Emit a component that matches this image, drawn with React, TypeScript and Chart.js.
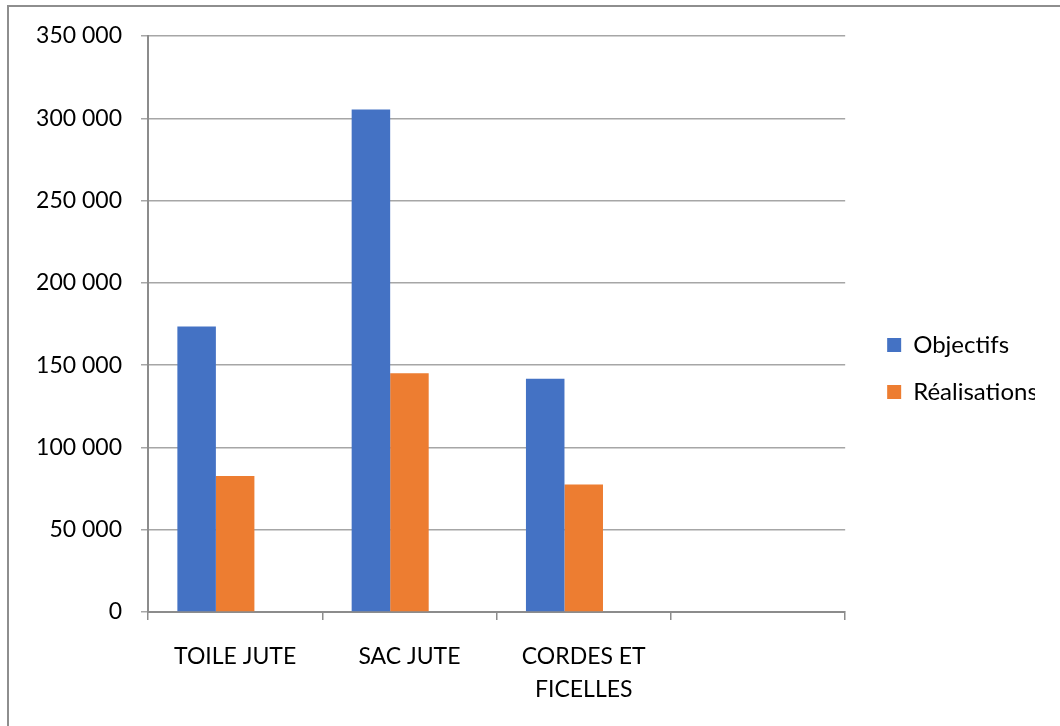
import React, { useEffect, useRef } from "react";
import { Chart, registerables } from "chart.js";

Chart.register(...registerables);

const categories: (string | string[])[] = ["TOILE JUTE", "SAC JUTE", ["CORDES ET", "FICELLES"], ""];
const objectifs: (number | null)[] = [173500, 305300, 141700, null];
const realisations: (number | null)[] = [82600, 145000, 77500, null];
const serie3: (number | null)[] = [null, null, null, null];
const seriesNames = ["Objectifs", "Réalisations", "Série3"];
const yTicks = [0, 50000, 100000, 150000, 200000, 250000, 300000, 350000];

const FONT = "Lato";

function fmt(v: number): string {
  return String(v).replace(/\B(?=(\d{3})+(?!\d))/g, " ");
}

export default function App() {
  const ref = useRef<HTMLCanvasElement | null>(null);
  useEffect(() => {
    if (!ref.current) return;
    const chart = new Chart(ref.current, {
      type: "bar",
      data: {
        labels: categories,
        datasets: [
          { label: seriesNames[0], data: objectifs, backgroundColor: "#4472C4", borderWidth: 0 },
          { label: seriesNames[1], data: realisations, backgroundColor: "#ED7D31", borderWidth: 0 },
          { label: seriesNames[2], data: serie3, backgroundColor: "#A5A5A5", borderWidth: 0 },
        ],
      },
      options: {
        animation: false,
        responsive: true,
        maintainAspectRatio: false,
        layout: { padding: { left: 10, right: 25, top: 36, bottom: 25 } },
        datasets: { bar: { categoryPercentage: 0.663, barPercentage: 1 } },
        plugins: {
          legend: {
            position: "right",
            labels: {
              boxWidth: 14,
              boxHeight: 14,
              padding: 23,
              color: "#000",
              font: { family: FONT, size: 24 },
              filter: (item: any) => item.datasetIndex !== 2,
            },
          },
          tooltip: { enabled: false },
        },
        scales: {
          x: {
            offset: true,
            grid: {
              offset: true,
              drawOnChartArea: false,
              drawTicks: true,
              tickLength: 8,
              color: "#8c8c8c",
              lineWidth: 1.5,
            },
            border: { display: true, color: "#8c8c8c", width: 2 },
            ticks: {
              color: "#000",
              font: { family: FONT, size: 23, lineHeight: 1.43 },
              padding: 20,
              maxRotation: 0,
              autoSkip: false,
            },
            afterFit: (s: any) => {
              s.height = 89;
            },
          },
          y: {
            min: 0,
            max: 350000,
            afterBuildTicks: (s: any) => {
              s.ticks = yTicks.map((v) => ({ value: v }));
            },
            grid: {
              color: "#a6a6a6",
              lineWidth: 1.5,
              tickLength: 7,
              drawTicks: true,
            },
            border: { display: true, color: "#8c8c8c", width: 2 },
            ticks: {
              color: "#000",
              font: { family: FONT, size: 23 },
              padding: 19,
              callback: (v: any) => fmt(Number(v)),
            },
            afterFit: (s: any) => {
              s.width = 138;
            },
          },
          y2: {
            type: "linear",
            position: "right",
            display: true,
            grid: { display: false },
            border: { display: false },
            ticks: { display: false },
            afterFit: (s: any) => {
              s.width = 19;
            },
          },
        },
      },
    });
    return () => chart.destroy();
  }, []);

  return (
    <div style={{ position: "absolute", left: 0, top: 0, width: 1060, height: 726, overflow: "hidden", background: "#fff" }}>
      <div
        style={{
          position: "absolute",
          left: 7,
          top: 5,
          width: 1053,
          height: 721,
          borderTop: "2px solid #8e8e8e",
          borderLeft: "2px solid #8e8e8e",
          boxSizing: "border-box",
        }}
      />
      <div style={{ position: "absolute", left: 0, top: 0, width: 1060, height: 726 }}>
        <canvas ref={ref} />
      </div>
    </div>
  );
}
